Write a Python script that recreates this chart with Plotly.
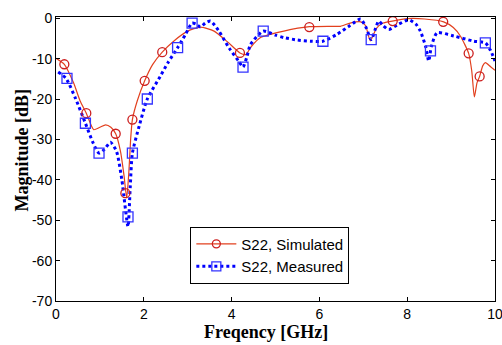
import plotly.graph_objects as go

# Simulated S22 curve
sim_f = [0.0, 0.19, 0.4, 0.55, 0.69, 0.86, 1.0, 1.13, 1.25, 1.36, 1.47, 1.55, 1.61, 1.66, 1.70, 1.74,
         1.85, 2.02, 2.2, 2.42, 2.7, 3.0, 3.29, 3.6, 3.9, 4.19, 4.32, 4.45, 4.66, 5.19, 5.77, 6.25,
         6.48, 6.7, 6.94, 7.05, 7.16, 7.3, 7.45, 7.66, 8.0, 8.4, 8.83, 9.05, 9.21, 9.4, 9.47, 9.53,
         9.59, 9.65, 9.72, 9.78, 9.9, 10.0]
sim_db = [-9.9, -11.4, -16.0, -20.5, -23.5, -27.6, -27.0, -26.4, -27.0, -28.6, -33.0, -39.0, -44.5, -38.0, -30.0, -25.1,
          -20.5, -15.5, -11.5, -8.4, -5.5, -3.2, -2.2, -3.2, -5.8, -8.6, -9.0, -7.0, -4.8, -3.2, -2.1, -2.0,
          -2.0, -1.2, -0.9, -1.8, -5.6, -2.5, -1.2, -0.7, -0.1, -0.2, -0.9, -2.3, -4.4, -8.7, -13.0, -19.5,
          -16.0, -14.4, -11.8, -11.0, -12.0, -12.9]
sim_mk_f = [0.19, 0.69, 1.36, 1.58, 1.74, 2.02, 2.42, 4.19, 5.77, 7.67, 8.82, 9.40, 9.65]
sim_mk_db = [-11.4, -23.5, -28.6, -43.3, -25.1, -15.5, -8.4, -8.6, -2.2, -0.7, -0.9, -8.7, -14.4]

# Measured S22 curve
mea_f = [0.05, 0.23, 0.45, 0.67, 0.85, 0.98, 1.1, 1.24, 1.38, 1.5, 1.64, 1.69, 1.74, 1.9, 2.08, 2.38,
         2.55, 2.77, 2.95, 3.10, 3.2, 3.29, 3.4, 3.52, 3.7, 3.95, 4.16, 4.26, 4.35, 4.43, 4.72, 5.0,
         5.19, 5.5, 5.8, 6.08, 6.4, 6.7, 6.94, 7.05, 7.18, 7.28, 7.35, 7.45, 7.58, 7.8, 8.04, 8.2,
         8.3, 8.42, 8.49, 8.55, 8.68, 9.06, 9.52, 9.78, 9.9, 10.0]
mea_db = [-13.3, -14.9, -20.0, -26.0, -31.0, -33.4, -32.5, -30.7, -33.0, -40.0, -51.6, -42.0, -33.4, -26.5, -20.0, -14.3,
          -11.0, -7.3, -4.0, -1.2, -1.5, -2.2, -1.2, -0.7, -3.0, -7.5, -10.6, -12.1, -9.5, -6.5, -3.2, -4.2,
          -4.8, -5.4, -5.7, -5.7, -4.0, -1.8, -0.2, -2.0, -5.3, -2.5, -0.7, -1.8, -2.8, -1.5, -0.4, -1.5,
          -3.2, -7.0, -10.6, -7.0, -3.6, -4.4, -5.7, -6.1, -8.0, -10.6]
mea_mk_f = [0.25, 0.67, 0.98, 1.64, 1.74, 2.08, 2.77, 3.10, 4.26, 4.72, 6.08, 7.18, 8.53, 9.78]
mea_mk_db = [-14.9, -26.0, -33.4, -49.2, -33.4, -20.0, -7.3, -1.2, -12.1, -3.2, -5.7, -5.3, -8.1, -6.1]

x_ticks = [0, 2, 4, 6, 8, 10]
y_ticks = [0, -10, -20, -30, -40, -50, -60, -70]

RED_LINE = "#E2401E"
RED_MK = "#CC1F1F"
BLUE = "#0000FF"
BLUE_MK = "#3333FF"

fig = go.Figure()
fig.add_trace(go.Scatter(x=sim_f, y=sim_db, mode="lines", line=dict(color=RED_LINE, width=1.2, shape="spline", smoothing=0.6),
                         showlegend=False, hoverinfo="skip"))
fig.add_trace(go.Scatter(x=mea_f, y=mea_db, mode="lines", line=dict(color=BLUE, width=3, dash="dot", shape="spline", smoothing=0.6),
                         showlegend=False, hoverinfo="skip"))
fig.add_trace(go.Scatter(x=sim_mk_f, y=sim_mk_db, mode="markers",
                         marker=dict(symbol="circle-open", size=9, color=RED_MK, line=dict(width=1.3, color=RED_MK)),
                         showlegend=False))
fig.add_trace(go.Scatter(x=mea_mk_f, y=mea_mk_db, mode="markers",
                         marker=dict(symbol="square-open", size=10, color=BLUE_MK, line=dict(width=1.3, color=BLUE_MK)),
                         showlegend=False))
# legend entries
fig.add_trace(go.Scatter(x=[None], y=[None], mode="lines+markers", name="S22, Simulated",
                         line=dict(color=RED_LINE, width=1.2),
                         marker=dict(symbol="circle-open", size=8, color=RED_MK, line=dict(width=1.3, color=RED_MK))))
fig.add_trace(go.Scatter(x=[None], y=[None], mode="lines+markers", name="S22, Measured",
                         line=dict(color=BLUE, width=3, dash="dot"),
                         marker=dict(symbol="square-open", size=9, color=BLUE_MK, line=dict(width=1.3, color=BLUE_MK))))

axis_common = dict(showline=True, linecolor="black", linewidth=1, mirror="ticks", ticks="inside", ticklen=4,
                   tickcolor="black", showgrid=False, zeroline=False, ticklabeloverflow="allow", automargin=False,
                   tickfont=dict(family="Liberation Sans, Arial", size=14, color="black"))
fig.update_xaxes(range=[0, 10], tickvals=x_ticks, ticktext=[str(v) for v in x_ticks], **axis_common)
fig.update_yaxes(range=[-70, 0.3], tickvals=y_ticks, ticktext=[str(v) for v in y_ticks], **axis_common)

fig.add_annotation(text="<b>Freqency [GHz]</b>", xref="paper", yref="paper", x=0.478, y=0, yshift=-19,
                   xanchor="center", yanchor="top", showarrow=False,
                   font=dict(family="Liberation Serif, Times New Roman", size=18, color="black"))
fig.add_annotation(text="<b>Magnitude [dB]</b>", xref="paper", yref="paper", x=0, xshift=-34, y=0.53,
                   xanchor="center", yanchor="middle", textangle=-90, showarrow=False,
                   font=dict(family="Liberation Serif, Times New Roman", size=18, color="black"))

fig.update_layout(
    width=502, height=345,
    margin=dict(l=56, r=7, t=17, b=44, autoexpand=False),
    paper_bgcolor="white", plot_bgcolor="white",
    legend=dict(x=0.306, y=0.262, xanchor="left", yanchor="top", bgcolor="white",
                bordercolor="black", borderwidth=1,
                font=dict(family="Liberation Sans, Arial", size=15, color="black"),
                tracegroupgap=0, itemwidth=40),
)

fig.write_html("out.html", config={"displayModeBar": False},
               post_script="document.body.style.margin='0';document.body.style.overflow='hidden';")
